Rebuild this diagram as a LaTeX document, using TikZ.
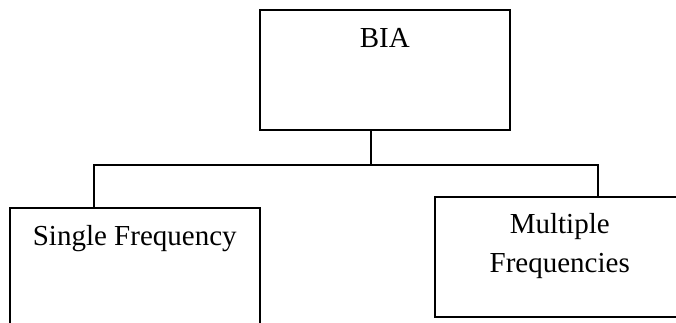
\documentclass[tikz,border=0pt]{standalone}
\usepackage{fontspec}
\setmainfont{Liberation Serif}
\usetikzlibrary{positioning}

\begin{document}
\begin{tikzpicture}[x=1pt,y=-1pt,line width=1.5pt,
    box/.style={draw,rectangle,inner sep=0pt,minimum width=250pt,
      anchor=north west,font=\fontsize{29}{39}\selectfont}]
   \clip (0,0) rectangle (676,322);
   \node[box,text height=38pt,text depth=82pt] (BIA) at (259,9) {BIA};
   \node[box,text height=38pt,text depth=95pt] (single) at (9,207) {Single Frequency};
   \node[box,text height=37pt,text depth=83pt] (multi) at (434,196)
      {\begin{tabular}[t]{@{}c@{}}Multiple\\Frequencies\end{tabular}};
   % tree lines
   \coordinate (j) at (371,165);
   \coordinate (jl) at (94,165);
   \coordinate (jr) at (598,165);
   \draw (BIA.south -| j) -- (j);
   \draw (single.north -| jl) -- (jl) -- (jr) -- (multi.north -| jr);
\end{tikzpicture}
\end{document}
